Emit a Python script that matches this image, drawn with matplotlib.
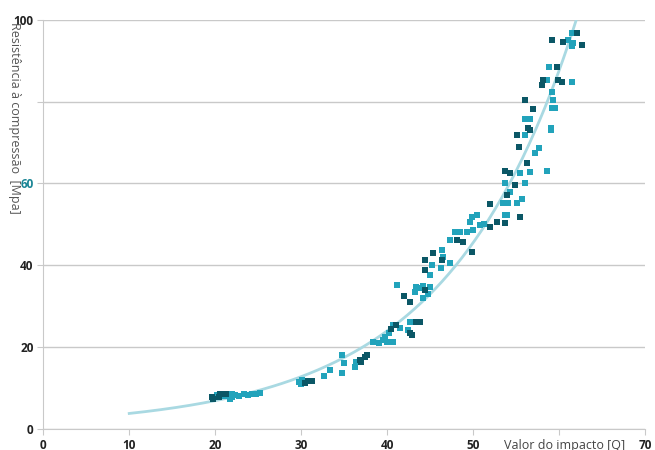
import numpy as np
import matplotlib
matplotlib.use("Agg")
import matplotlib.pyplot as plt

plt.rcParams['font.family'] = ['Open Sans', 'DejaVu Sans']

# impact value [Q] vs compressive strength [Mpa], two shades of points
x_dark = [19.6, 19.8, 20.6, 21.3, 20.4, 30.4, 30.8, 31.3, 36.8, 37.7, 37.0, 37.4,
          40.5, 41.0, 42.9, 43.8, 43.3, 42.7, 41.9, 42.7, 44.4, 44.4, 44.4, 45.3,
          46.4, 48.1, 48.8, 49.9, 52.0, 52.8, 53.7, 52.0, 55.5, 53.9, 54.9, 53.7,
          54.3, 56.3, 55.3, 55.1, 56.6, 56.4, 57.0, 56.0, 58.1, 58.0, 59.9, 60.3,
          59.7, 59.2, 60.5, 62.7, 62.1]
y_dark = [7.9, 7.4, 8.4, 8.6, 7.7, 11.2, 11.8, 11.7, 16.8, 18.0, 16.4, 17.6,
          24.5, 25.4, 23.0, 26.2, 26.0, 23.4, 32.5, 31.1, 34.0, 41.3, 38.9, 43.0,
          41.3, 46.2, 45.7, 43.3, 49.4, 50.6, 50.3, 55.0, 51.8, 57.2, 59.7, 63.0,
          62.6, 65.0, 69.0, 71.9, 73.1, 73.6, 78.2, 80.4, 85.3, 84.1, 85.3, 84.8,
          88.5, 95.1, 94.6, 93.9, 96.8]

x_light = [20.2, 21.0, 21.7, 21.9, 22.3, 22.8, 23.3, 23.8, 24.3, 24.8, 25.2, 22.0,
           29.7, 30.1, 30.0, 32.7, 33.4, 34.7, 34.7, 35.0, 36.3, 36.4,
           38.4, 39.0, 39.5, 40.0, 40.7, 39.8, 40.2, 41.5, 40.7, 42.4, 42.7,
           41.1, 43.2, 43.8, 44.8, 44.2, 43.3, 44.2, 45.0,
           45.2, 46.2, 45.0, 46.4, 46.5, 47.3, 47.3, 47.9, 48.5, 49.3,
           49.9, 50.4, 49.6, 50.8, 53.7, 51.2, 50.0,
           53.9, 53.5, 54.1, 55.1, 55.7, 54.3, 53.7, 56.0, 55.5, 56.6, 58.6,
           57.2, 57.6, 56.0, 59.0, 59.0, 56.0, 56.6, 59.2, 59.5, 59.3, 59.2,
           58.6, 61.5, 58.8, 61.0, 61.6, 61.5, 61.5, 61.9]
y_light = [8.2, 8.0, 7.3, 8.5, 8.2, 8.1, 8.4, 8.3, 8.6, 8.5, 8.7, 7.8,
           11.4, 11.9, 11.0, 13.0, 14.4, 13.7, 18.0, 16.1, 15.0, 16.4,
           21.3, 21.0, 21.6, 21.2, 21.3, 22.5, 23.5, 24.7, 25.4, 24.2, 26.2,
           35.2, 33.5, 34.5, 33.0, 32.0, 34.7, 35.0, 34.7,
           40.0, 39.4, 37.7, 43.8, 42.0, 40.6, 46.2, 48.2, 48.2, 48.2,
           51.8, 52.3, 50.6, 49.9, 52.3, 50.0, 48.5,
           52.3, 55.3, 55.3, 55.3, 56.2, 58.0, 60.1, 60.1, 62.6, 62.8, 63.0,
           67.5, 68.7, 71.9, 73.1, 73.6, 75.8, 75.8, 78.5, 78.5, 80.4, 82.4,
           85.3, 84.8, 88.5, 95.1, 94.4, 93.6, 96.8, 100.7]

y_ticks = [0, 20, 40, 60, 80, 100]
y_labels = ['0', '20', '40', '60', '', '100']
x_ticks = [0, 10, 20, 30, 40, 50, 60, 70]
x_labels = ['0', '10', '20', '30', '40', '50', '', '70']

fig = plt.figure(figsize=(6.55, 4.5), dpi=100)
ax = fig.add_axes([0.066, 0.047, 0.919, 0.909])

# trend line fitted to all points
xa = np.array(x_dark + x_light)
ya = np.array(y_dark + y_light)
coef = np.polyfit(xa, np.log(ya), 2)
xt = np.linspace(10, 62, 200)
ax.plot(xt, np.exp(np.polyval(coef, xt)), color='#a9d9e2', lw=2, zorder=2)

ax.scatter(x_light, y_light, marker='s', s=20, color='#22a3bb', zorder=3, linewidths=0)
ax.scatter(x_dark, y_dark, marker='s', s=20, color='#0b5766', zorder=3, linewidths=0)

ax.set_xlim(0, 70)
ax.set_ylim(0, 100)
ax.set_yticks(y_ticks)
ax.set_yticklabels(y_labels, fontweight='bold', fontsize=8.5, color='#222222')
ax.set_xticks(x_ticks)
ax.set_xticklabels(x_labels, fontweight='bold', fontsize=8.5, color='#222222')
ax.get_yticklabels()[3].set_color('#1a8595')

ax.grid(axis='y', color='#c9c9c9', lw=1)
ax.set_axisbelow(True)
for s in ['top', 'right']:
    ax.spines[s].set_visible(False)
for s in ['left', 'bottom']:
    ax.spines[s].set_color('#c9c9c9')
ax.tick_params(axis='both', color='#c9c9c9', length=4, pad=3)

fig.text(0.022, 0.952, 'Resistência à compressão  [Mpa]', rotation=270,
         ha='center', va='top', fontsize=9, color='#555555')
ax.text(60.6, -2.6, 'Valor do impacto [Q]', ha='center', va='top',
        fontsize=9, color='#444444')

fig.savefig('out.png', dpi=100)
